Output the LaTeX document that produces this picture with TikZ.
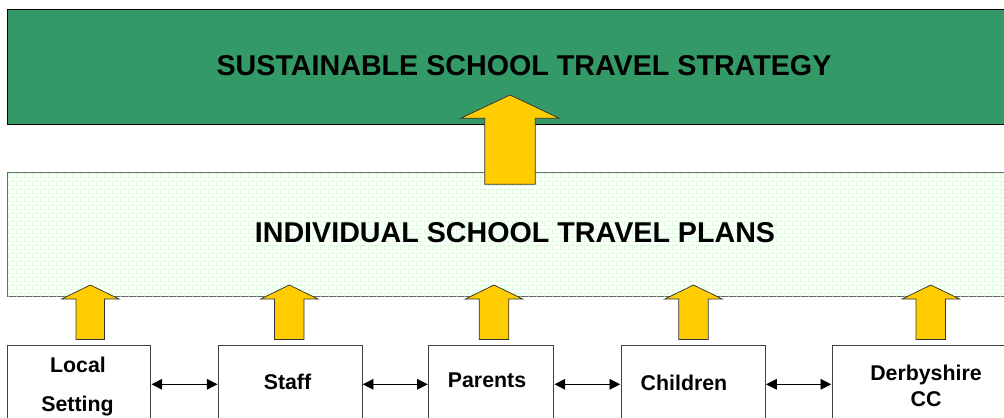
\documentclass[tikz,border=0pt]{standalone}
\usepackage{fontspec}
\setmainfont{Liberation Sans}
\usetikzlibrary{fit,arrows.meta,patterns.meta}

\definecolor{seagreen}{RGB}{51,153,102}
\definecolor{brickgreen}{RGB}{200,255,200}
\definecolor{arrowyellow}{RGB}{255,204,0}

\tikzdeclarepattern{
  name=smallbricks,
  type=uncolored,
  bounding box={(0pt,0pt) and (6pt,6pt)},
  tile size={(6pt,6pt)},
  code={
    \draw[line width=0.55pt] (0pt,0.5pt) -- (6pt,0.5pt)
      (0pt,3.5pt) -- (6pt,3.5pt)
      (0.5pt,0.5pt) -- (0.5pt,3.5pt)
      (3.5pt,3.5pt) -- (3.5pt,6pt);
  }
}

\tikzset{
  bigtitle/.style={font=\bfseries\fontsize{21.5}{26}\selectfont, anchor=base},
  boxlabel/.style={font=\bfseries\fontsize{16}{19}\selectfont, anchor=base},
  topbox/.style={draw=black, line width=0.75pt, fill=seagreen, inner sep=0pt},
  midbox/.style={draw=black!60, line width=0.75pt, fill=white, inner sep=0pt,
    postaction={pattern={smallbricks}, pattern color=brickgreen}},
  sourcebox/.style={draw=black!75, line width=0.6pt, fill=white, inner sep=0pt},
  blockarrow/.style={fill=arrowyellow, draw=black!80, line width=0.55pt, line join=miter},
  link/.style={{Triangle[length=8pt,width=8pt]}-{Triangle[length=8pt,width=8pt]}, line width=0.6pt, shorten <=0.3pt, shorten >=0.3pt}
}

\newcommand{\yellowarrow}[6]{%
  \filldraw[blockarrow] (#1,#2) -- (#1+#4,#3) -- (#1+#5,#3) -- (#1+#5,#6)
    -- (#1-#5,#6) -- (#1-#5,#3) -- (#1-#4,#3) -- cycle;}

\begin{document}
\begin{tikzpicture}[x=0.75pt,y=-0.75pt]
\useasboundingbox (0,0) rectangle (1004,418);
\clip (0,0) rectangle (1004,418);

% main boxes
\node[topbox, fit={(7.3,9.3) (1012,124.5)}] (strategy) {};
\node[midbox, fit={(7.3,172.7) (1012,296.8)}] (plans) {};

\node[bigtitle] (strategytext) at (524,75) {SUSTAINABLE SCHOOL TRAVEL STRATEGY};
\node[bigtitle] (planstext) at (515,242.3) {INDIVIDUAL SCHOOL TRAVEL PLANS};

% source boxes
\node[sourcebox, fit={(7.3,345) (150.7,430)}] (local) {};
\node[sourcebox, fit={(218.3,345) (362,430)}] (staff) {};
\node[sourcebox, fit={(428.5,345) (553.7,430)}] (parents) {};
\node[sourcebox, fit={(621,345) (765.3,430)}] (children) {};
\node[sourcebox, fit={(832,345) (1012,430)}] (derby) {};

\node[boxlabel] (localA) at (78,372) {Local};
\node[boxlabel] (localB) at (77.5,411.7) {Setting};
\node[boxlabel] (stafftext) at (287.5,389) {Staff};
\node[boxlabel] (parentstext) at (487,387.3) {Parents};
\node[boxlabel] (childrentext) at (684,390.7) {Children};
\node[boxlabel] (derbyA) at (926,380) {Derbyshire};
\node[boxlabel] (derbyB) at (926,406) {CC};

% block arrows
\yellowarrow{510}{95}{118.3}{49.3}{25.3}{184.3}
\yellowarrow{90.3}{285}{299}{28.7}{14.2}{339.5}
\yellowarrow{289.3}{285}{299}{28.7}{14.8}{339.5}
\yellowarrow{494}{285}{299}{28.7}{14.8}{339.5}
\yellowarrow{693.5}{285}{299}{28.7}{14.7}{339.5}
\yellowarrow{930.8}{285}{299}{28.7}{14.8}{339.5}

% links between source boxes
\coordinate (linkrow) at (0,384.3);
\draw[link] (local.east |- linkrow) -- (staff.west |- linkrow);
\draw[link] (staff.east |- linkrow) -- (parents.west |- linkrow);
\draw[link] (parents.east |- linkrow) -- (children.west |- linkrow);
\draw[link] (children.east |- linkrow) -- (derby.west |- linkrow);
\end{tikzpicture}
\end{document}
